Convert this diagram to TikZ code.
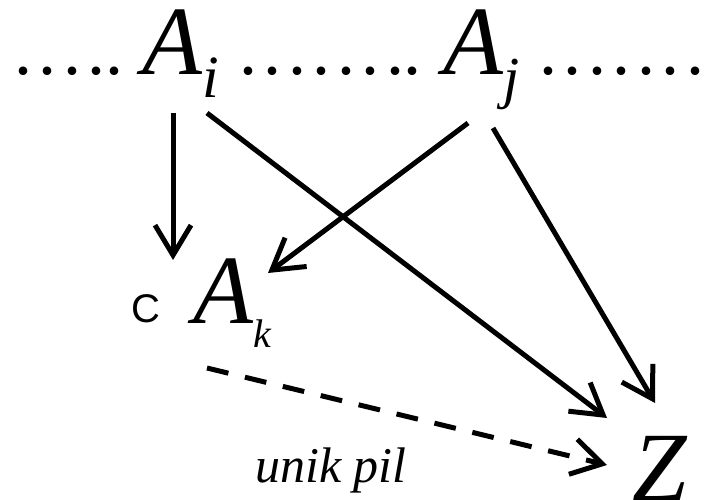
\documentclass[tikz,border=0pt]{standalone}
\usepackage{fontspec}
\newfontfamily\romain{Liberation Serif}
\newfontfamily\lineaire{Liberation Sans}
\usetikzlibrary{arrows.meta}

\newcommand{\grand}{\romain\fontsize{98}{98}\selectfont}
\newcommand{\pnt}{.\kern6.5pt}
\newcommand{\lettre}[4]{{\itshape #1}\raisebox{-#3}{\fontsize{#4}{#4}\selectfont\itshape #2}}

\tikzset{
  texte/.style={inner sep=0pt, anchor=base west, font=\grand},
  points/.style={texte, font=\romain\fontsize{72}{72}\selectfont},
  fleche/.style={line width=5pt, -{Straight Barb[length=30pt,width=36pt]}},
  tirets/.style={fleche, dash pattern=on 22pt off 17pt}
}

\begin{document}
\begin{tikzpicture}[x=1pt,y=-1pt]

\useasboundingbox (0,0) rectangle (704,500);

% Ligne du haut
\node[points] (pts1) at (14,75) {\pnt\pnt\pnt.\kern-.5pt.};
\node[texte] (Ai) at (142,75) {\lettre{A}{i}{23pt}{60}};
\node[points] (pts2) at (239,75) {\pnt\pnt\pnt\pnt\pnt\pnt.\kern-.5pt.};
\node[texte] (Aj) at (443,75) {\lettre{A}{j}{23pt}{58}};
\node[points] (pts3) at (539,75) {\pnt\pnt\pnt\pnt\pnt\pnt.};

% Milieu
\node[texte, font=\lineaire\fontsize{40}{40}\selectfont] (c) at (131,322) {C};
\node[texte] (Ak) at (193,323) {\lettre{A}{k}{24pt}{40}};

% Bas
\node[texte] (Z) at (632,500) {\itshape Z};
\node[texte, font=\romain\itshape\fontsize{50}{50}\selectfont] (pil) at (255,482) {unik pil};

% Fleches
\draw[fleche]
([shift={(31,38)}]Ai.base west)
--
([shift={(-20,-63)}]Ak.base west);

\draw[fleche]
([shift={(65,38)}]Ai.base west)
--
([shift={(-25,-82)}]Z.base west);

\draw[fleche]
([shift={(25,48)}]Aj.base west)
--
([shift={(75,-50)}]Ak.base west);

\draw[fleche]
([shift={(50,53)}]Aj.base west)
--
([shift={(23,-97)}]Z.base west);

\draw[tirets]
([shift={(14,45)}]Ak.base west)
--
([shift={(-25,-35)}]Z.base west);

\end{tikzpicture}
\end{document}
